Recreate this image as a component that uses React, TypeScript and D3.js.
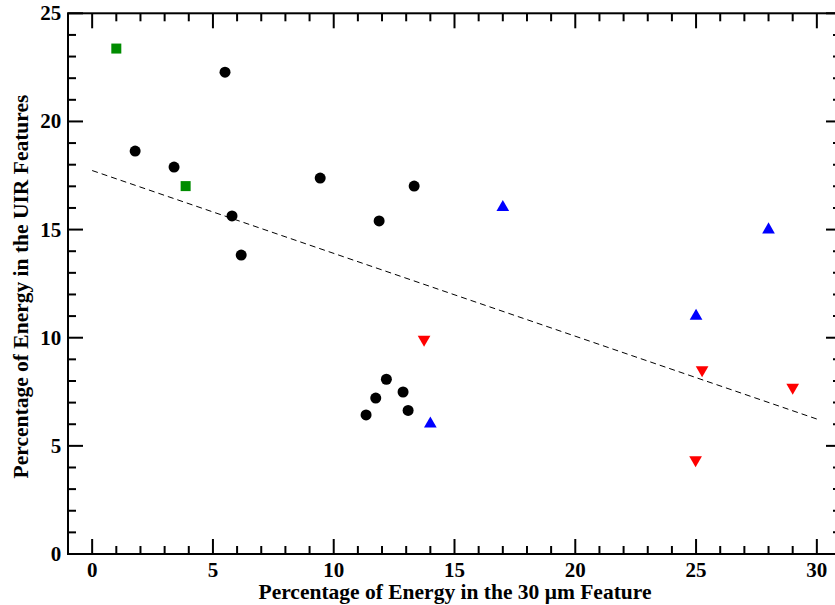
import React from "react";
import * as d3 from "d3";

const W = 835;
const H = 605;

// Black circles
const circleX = [5.5, 1.78, 3.39, 5.79, 6.17, 9.44, 11.88, 13.33, 12.18, 12.87, 11.74, 13.08, 11.34];
const circleY = [22.28, 18.63, 17.89, 15.63, 13.82, 17.38, 15.40, 17.01, 8.08, 7.49, 7.21, 6.64, 6.43];
// Green squares
const squareX = [1.0, 3.87];
const squareY = [23.37, 17.01];
// Blue up triangles
const upX = [17.0, 25.0, 28.0, 14.0];
const upY = [16.07, 11.05, 15.04, 6.06];
// Red down triangles
const downX = [13.74, 25.25, 29.0, 24.98];
const downY = [9.87, 8.46, 7.66, 4.3];
// Fit line endpoints
const fitX = [0, 30];
const fitY = [17.73, 6.24];

const xMajor = [0, 5, 10, 15, 20, 25, 30];
const yMajor = [0, 5, 10, 15, 20, 25];

const FONT = "'Liberation Serif', 'Times New Roman', serif";

export default function App() {
  const left = 68, top = 13.3, bottom = 554;
  const x = d3.scaleLinear().domain([-1, 31]).range([left, 841]);
  const y = d3.scaleLinear().domain([0, 25]).range([bottom, top]);
  const right = x(31);

  const xMinor = d3.range(-1, 32, 1).filter((v) => v % 5 !== 0);
  const yMinor = d3.range(0, 26, 1).filter((v) => v % 5 !== 0);

  const line = d3.line<number>().x((d, i) => x(fitX[i])).y((d, i) => y(fitY[i]));
  const tri = d3.symbol().type(d3.symbolTriangle).size(70);
  const up = tri() as string;

  return (
    <svg width={W} height={H} style={{ position: "absolute", left: 0, top: 0, background: "#fff" }}>
      <rect x={0} y={0} width={W} height={H} fill="#fff" />
      {/* fit line */}
      <path d={line(fitX) as string} fill="none" stroke="#000" strokeWidth={1} strokeDasharray="6,4" />
      {/* circles */}
      {circleX.map((v, i) => (
        <circle key={"c" + i} cx={x(v)} cy={y(circleY[i])} r={5.5} fill="#000" />
      ))}
      {squareX.map((v, i) => (
        <rect key={"s" + i} x={x(v) - 5} y={y(squareY[i]) - 5} width={10} height={10} fill="#008c00" />
      ))}
      {upX.map((v, i) => (
        <path key={"u" + i} d={up} transform={`translate(${x(v)},${y(upY[i]) + 1})`} fill="#0000ff" />
      ))}
      {downX.map((v, i) => (
        <path key={"d" + i} d={up} transform={`translate(${x(v)},${y(downY[i]) - 1}) rotate(180)`} fill="#ff0000" />
      ))}
      {/* frame */}
      <rect x={left} y={top} width={right - left} height={bottom - top} fill="none" stroke="#000" strokeWidth={2} />
      {/* x ticks */}
      {xMajor.map((v) => (
        <g key={"xm" + v}>
          <line x1={x(v)} x2={x(v)} y1={bottom} y2={bottom - 15} stroke="#000" strokeWidth={2} />
          <line x1={x(v)} x2={x(v)} y1={top} y2={top + 15} stroke="#000" strokeWidth={2} />
          <text x={x(v)} y={577} textAnchor="middle" fontFamily={FONT} fontWeight="bold" fontSize={21}>
            {v}
          </text>
        </g>
      ))}
      {xMinor.map((v) => (
        <g key={"xn" + v}>
          <line x1={x(v)} x2={x(v)} y1={bottom} y2={bottom - 8} stroke="#000" strokeWidth={2} />
          <line x1={x(v)} x2={x(v)} y1={top} y2={top + 8} stroke="#000" strokeWidth={2} />
        </g>
      ))}
      {/* y ticks */}
      {yMajor.map((v) => (
        <g key={"ym" + v}>
          <line x1={left} x2={left + 15} y1={y(v)} y2={y(v)} stroke="#000" strokeWidth={2} />
          <line x1={right} x2={right - 15} y1={y(v)} y2={y(v)} stroke="#000" strokeWidth={2} />
          <text x={61.3} y={y(v) + 7} textAnchor="end" fontFamily={FONT} fontWeight="bold" fontSize={21}>
            {v}
          </text>
        </g>
      ))}
      {yMinor.map((v) => (
        <g key={"yn" + v}>
          <line x1={left} x2={left + 8} y1={y(v)} y2={y(v)} stroke="#000" strokeWidth={2} />
          <line x1={right} x2={right - 8} y1={y(v)} y2={y(v)} stroke="#000" strokeWidth={2} />
        </g>
      ))}
      {/* axis titles */}
      <text x={455} y={599} textAnchor="middle" fontFamily={FONT} fontWeight="bold" fontSize={21.5}>
        Percentage of Energy in the 30 μm Feature
      </text>
      <text
        transform={`translate(27.5,${286.5}) rotate(-90)`}
        textAnchor="middle"
        fontFamily={FONT}
        fontWeight="bold"
        fontSize={21.5}
      >
        Percentage of Energy in the UIR Features
      </text>
    </svg>
  );
}
